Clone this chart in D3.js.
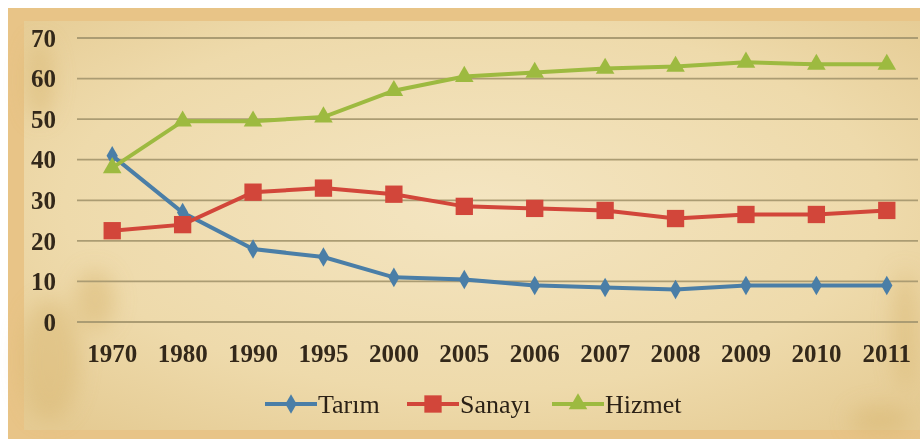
<!DOCTYPE html>
<html>
<head>
<meta charset="utf-8">
<script src="https://cdn.jsdelivr.net/npm/d3@7"></script>
<style>
  html, body { margin: 0; padding: 0; background: #fff; }
  svg { display: block; }
</style>
</head>
<body>
<svg id="chart" width="920" height="439"></svg>
<script>
var years = ["1970", "1980", "1990", "1995", "2000", "2005", "2006", "2007", "2008", "2009", "2010", "2011"];
var tarim = [41, 27, 18, 16, 11, 10.5, 9, 8.5, 8, 9, 9, 9];
var sanayi = [22.5, 24, 32, 33, 31.5, 28.5, 28, 27.5, 25.5, 26.5, 26.5, 27.5];
var hizmet = [38, 49.5, 49.5, 50.5, 57, 60.5, 61.5, 62.5, 63, 64, 63.5, 63.5];
var yTicks = [0, 10, 20, 30, 40, 50, 60, 70];
var seriesNames = ["Tarım", "Sanayı", "Hizmet"];

var series = [
    {name: seriesNames[0], values: tarim, color: "#4a7ea7", marker: "diamond"},
    {name: seriesNames[1], values: sanayi, color: "#d2463a", marker: "square"},
    {name: seriesNames[2], values: hizmet, color: "#9dba40", marker: "triangle"}
];

var svg = d3.select("#chart"),
    width = +svg.attr("width"),
    height = +svg.attr("height");

// background: frame + parchment
var defs = svg.append("defs");
var grad = defs.append("radialGradient")
    .attr("id", "paper")
    .attr("cx", "50%").attr("cy", "45%").attr("r", "70%");
grad.append("stop").attr("offset", "0%").attr("stop-color", "#f4e5c1");
grad.append("stop").attr("offset", "65%").attr("stop-color", "#eedaab");
grad.append("stop").attr("offset", "100%").attr("stop-color", "#e5cb93");

defs.append("filter")
    .attr("id", "blur")
    .attr("x", "-50%").attr("y", "-50%").attr("width", "200%").attr("height", "200%")
    .append("feGaussianBlur")
    .attr("stdDeviation", 10);

svg.append("rect")
    .attr("x", 8).attr("y", 8)
    .attr("width", width - 8).attr("height", height - 8)
    .attr("fill", "#e8c487");

svg.append("rect")
    .attr("x", 24).attr("y", 21)
    .attr("width", width - 24).attr("height", 409)
    .attr("fill", "url(#paper)");

// a few soft stains on the paper
svg.append("g")
    .attr("clip-path", null)
    .attr("filter", "url(#blur)")
    .selectAll("ellipse")
    .data([[50, 360, 30, 60], [95, 300, 20, 30], [880, 420, 30, 15], [905, 330, 12, 60], [40, 80, 14, 40]])
    .enter().append("ellipse")
    .attr("cx", function(d) { return d[0]; })
    .attr("cy", function(d) { return d[1]; })
    .attr("rx", function(d) { return d[2]; })
    .attr("ry", function(d) { return d[3]; })
    .attr("fill", "#d9b874")
    .attr("opacity", 0.5);

var x = d3.scalePoint()
    .domain(years)
    .range([77, 922])
    .padding(0.5);

var y = d3.scaleLinear()
    .domain([0, 70])
    .range([322, 38]);

// gridlines
svg.append("g")
    .attr("class", "grid")
    .selectAll("line")
    .data(yTicks)
    .enter().append("line")
    .attr("x1", 77)
    .attr("x2", 918)
    .attr("y1", function(d) { return y(d); })
    .attr("y2", function(d) { return y(d); })
    .attr("stroke", "#ab9c73")
    .attr("stroke-width", 1.8);

// y axis labels
svg.append("g")
    .selectAll("text")
    .data(yTicks)
    .enter().append("text")
    .attr("x", 56)
    .attr("y", function(d) { return y(d); })
    .attr("dy", "0.35em")
    .attr("text-anchor", "end")
    .style("font-family", "Liberation Serif")
    .style("font-size", "25px")
    .style("font-weight", "bold")
    .style("fill", "#33281a")
    .text(function(d) { return d; });

// x axis labels
svg.append("g")
    .selectAll("text")
    .data(years)
    .enter().append("text")
    .attr("x", function(d) { return x(d); })
    .attr("y", 353)
    .attr("dy", "0.35em")
    .attr("text-anchor", "middle")
    .style("font-family", "Liberation Serif")
    .style("font-size", "25px")
    .style("font-weight", "bold")
    .style("fill", "#33281a")
    .text(function(d) { return d; });

function markerPath(type) {
    if (type === "square") return d3.symbol().type(d3.symbolSquare).size(300)();
    if (type === "triangle") return d3.symbol().type(d3.symbolTriangle).size(150)();
    return d3.symbol().type(d3.symbolDiamond).size(110)();
}

var line = d3.line()
    .x(function(d, i) { return x(years[i]); })
    .y(function(d) { return y(d); });

var groups = svg.append("g")
    .selectAll("g")
    .data(series)
    .enter().append("g");

groups.append("path")
    .attr("d", function(d) { return line(d.values); })
    .attr("fill", "none")
    .attr("stroke", function(d) { return d.color; })
    .attr("stroke-width", 4);

groups.each(function(s) {
    d3.select(this).selectAll("path.pt")
        .data(s.values)
        .enter().append("path")
        .attr("class", "pt")
        .attr("d", markerPath(s.marker))
        .attr("transform", function(d, i) {
            return "translate(" + x(years[i]) + "," + y(d) + ")";
        })
        .attr("fill", s.color);
});

// legend
var legendX = [265, 407, 552];
var legend = svg.append("g")
    .selectAll("g")
    .data(series)
    .enter().append("g")
    .attr("transform", function(d, i) { return "translate(" + legendX[i] + ",404)"; });

legend.append("line")
    .attr("x1", 0).attr("x2", 52)
    .attr("stroke", function(d) { return d.color; })
    .attr("stroke-width", 4);

legend.append("path")
    .attr("d", function(d) { return markerPath(d.marker); })
    .attr("transform", "translate(26,0)")
    .attr("fill", function(d) { return d.color; });

legend.append("text")
    .attr("x", 53)
    .attr("dy", "0.35em")
    .style("font-family", "Liberation Serif")
    .style("font-size", "26px")
    .style("fill", "#2b2116")
    .text(function(d) { return d.name; });
</script>
</body>
</html>
